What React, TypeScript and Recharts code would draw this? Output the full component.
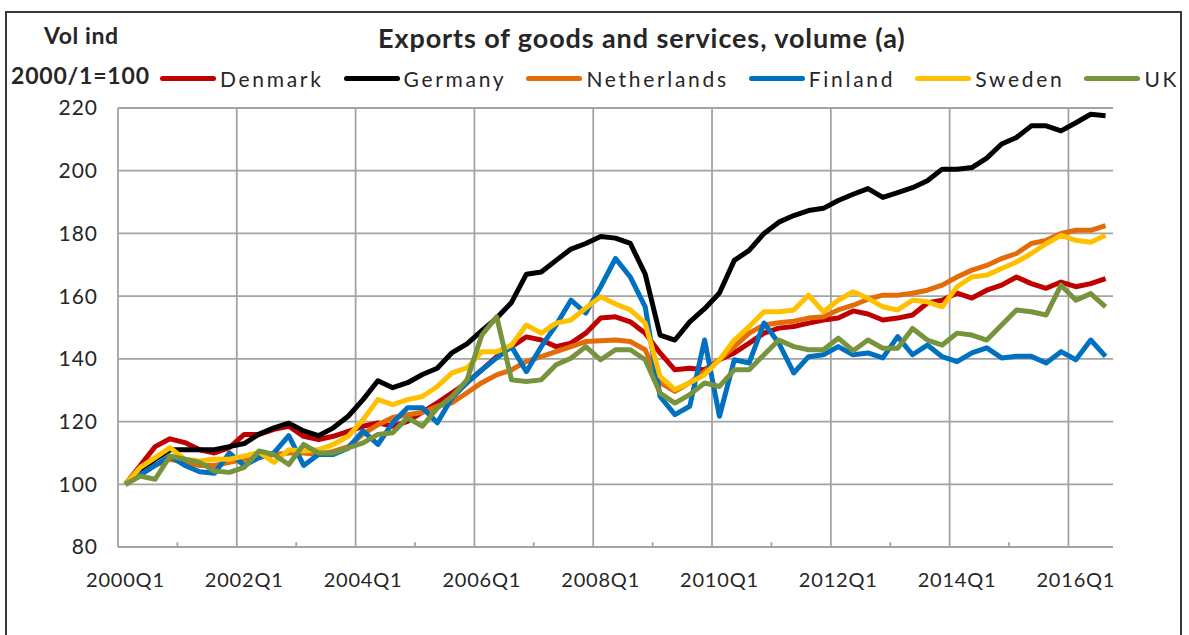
import {
  CartesianGrid,
  Legend,
  Line,
  LineChart,
  ReferenceLine,
  XAxis,
  YAxis,
} from "recharts"

// quarterly volume index, 2000Q1 = 100
const DENMARK = [
  100, 106, 112, 114.5, 113.3, 111, 110, 111.7, 115.9, 115.9,
  117.5, 118.5, 115.3, 114.3, 115.3, 116.9, 118.5, 119.6, 118.5, 120.1,
  123, 126, 129.2, 132.4, 136.5, 140.7, 143.9, 147, 146, 143.9,
  145, 148.2, 153, 153.4, 151.8, 148.2, 141.9, 136.5, 137, 136.5,
  139.7, 141.9, 145, 148.2, 149.8, 150.3, 151.4, 152.4, 153, 155.3,
  154.3, 152.4, 153, 154, 157.8, 158.7, 161, 159.4, 161.9, 163.5,
  166.1, 164, 162.5, 164.5, 163, 164, 165.6,
]
const GERMANY = [
  100, 104, 108, 111, 111, 111, 111, 112, 113, 116,
  118, 119.5, 117, 115.5, 118, 121.7, 127, 133, 130.8, 132.4,
  135, 137, 142, 144.8, 149, 153, 158, 167, 167.7, 171.4,
  175, 176.8, 179, 178.5, 176.8, 167, 147.6, 146, 151.8, 156,
  161, 171.4, 174.6, 180, 183.6, 185.7, 187.3, 188, 190.5, 192.5,
  194.3, 191.5, 193, 194.6, 196.8, 200.5, 200.5, 201, 204, 208.5,
  210.6, 214.3, 214.3, 212.7, 215.3, 218, 217.5,
]
const NETHERLANDS = [
  100, 103, 106, 108, 107, 106, 106, 107, 108, 108.5,
  109.5, 110, 110, 109.5, 110.5, 112, 116, 119, 121.3, 122.2,
  122.9, 124.9, 126, 129.2, 132.4, 134.9, 136.5, 139.2, 140.7, 142.3,
  143.9, 145.5, 145.8, 146, 145.5, 142.9, 132.4, 129.6, 132.4, 136,
  139.7, 143.9, 148.2, 150.8, 151.5, 152, 153, 153.4, 155.6, 157.1,
  159, 160.3, 160.3, 160.9, 161.9, 163.5, 166.1, 168.3, 169.8, 172,
  173.6, 176.8, 177.8, 180, 181, 181, 182.5,
]
const FINLAND = [
  100, 103, 106, 109, 106, 104, 103.5, 110, 106, 108.5,
  110, 115.5, 106, 109.5, 109.5, 111.5, 117, 112.7, 119.6, 124.4,
  124.4, 119.6, 127.6, 132.4, 136.5, 140.3, 143.9, 135.9, 143.9, 150.8,
  158.7, 154.6, 163, 172, 166.1, 156.6, 128, 122.2, 124.9, 146,
  121.7, 139.7, 138.7, 151.4, 145, 135.5, 140.7, 141.3, 143.9, 141.3,
  141.9, 140.3, 147.1, 141.3, 144.4, 140.7, 139.1, 141.9, 143.5, 140.3,
  140.8, 140.8, 138.7, 142.3, 139.7, 146, 140.8,
]
const SWEDEN = [
  100, 105.4, 108.5, 111.7, 108, 107.4, 108, 108, 109, 110.2,
  107, 111, 110.6, 111, 112.7, 115.3, 120.6, 127, 125.4, 127,
  128, 131.2, 135.5, 137.1, 142.3, 142.3, 144.4, 150.8, 148.2, 151.4,
  152.4, 156.2, 159.8, 157.5, 155.6, 151.4, 134.4, 130.2, 132.4, 134.9,
  139.7, 146, 150.3, 155, 155, 155.6, 160.3, 155, 158.7, 161.4,
  159.3, 156.6, 155.6, 158.7, 158.2, 156.6, 163, 166.1, 166.7, 168.8,
  170.9, 173.6, 176.7, 179.4, 177.8, 177.2, 179.4,
]
const UK = [
  100, 102.6, 101.6, 109, 108, 107, 104.2, 103.8, 105.4, 110.6,
  109.5, 106.3, 112.7, 110, 110, 111.6, 113.2, 115.9, 116.4, 121.2,
  118.5, 124.3, 128, 133.3, 147.6, 153.4, 133.3, 132.8, 133.3, 138.1,
  140.2, 143.9, 139.7, 142.9, 142.9, 139.7, 129.1, 125.9, 128.6, 132.3,
  131.2, 136.5, 136.5, 141.3, 146, 143.9, 142.9, 142.9, 146.6, 142.6,
  146, 143.4, 143.4, 149.7, 146, 144.4, 148.2, 147.6, 146, 150.8,
  155.6, 155, 154, 163.5, 158.7, 160.8, 156.6,
]

const QUARTERS: string[] = []
for (let y = 2000; y <= 2016; y++) {
  for (let q = 1; q <= 4; q++) QUARTERS.push(`${y}Q${q}`)
}
const N_QUARTERS = DENMARK.length

const Y_TICKS = [80, 100, 120, 140, 160, 180, 200, 220]
// labelled quarters (every two years) and category boundaries for the grid
const LABEL_TICKS = [0, 8, 16, 24, 32, 40, 48, 56, 64]
const MAJOR_BOUNDS = [7.5, 15.5, 23.5, 31.5, 39.5, 47.5, 55.5, 63.5]
const MINOR_BOUNDS = [3.5, 11.5, 19.5, 27.5, 35.5, 43.5, 51.5, 59.5]

const SERIES = [
  { key: "dk", name: "Denmark", values: DENMARK, color: "#c00000" },
  { key: "de", name: "Germany", values: GERMANY, color: "#000000" },
  { key: "nl", name: "Netherlands", values: NETHERLANDS, color: "#e36c09" },
  { key: "fi", name: "Finland", values: FINLAND, color: "#0070c0" },
  { key: "se", name: "Sweden", values: SWEDEN, color: "#ffc000" },
  { key: "uk", name: "UK", values: UK, color: "#77933c" },
]

const FONT = "Lato, 'Open Sans', sans-serif"
const GRID = "#a3a3a3"
const TEXT = "#262626"

const data = Array.from({ length: N_QUARTERS }, (_, i) => {
  const row: Record<string, number | string> = { idx: i, label: QUARTERS[i] }
  SERIES.forEach((s) => (row[s.key] = s.values[i]))
  return row
})

// legend keeps the series order, not recharts' sorted payload
function LegendRow() {
  return (
    <div style={{ display: "flex", alignItems: "center", fontFamily: FONT }}>
      {SERIES.map((s) => (
        <div
          key={s.key}
          style={{ display: "flex", alignItems: "center", marginRight: 20 }}
        >
          <span
            style={{
              display: "inline-block",
              width: 56,
              height: 5,
              borderRadius: 3,
              background: s.color,
              marginRight: 4,
            }}
          />
          <span style={{ fontSize: 21, letterSpacing: 2.7, color: TEXT }}>
            {s.name}
          </span>
        </div>
      ))}
    </div>
  )
}

export default function App() {
  return (
    <div
      style={{
        position: "absolute",
        left: 0,
        top: 0,
        width: 1189,
        height: 635,
        background: "#fff",
        overflow: "hidden",
        fontFamily: FONT,
      }}
    >
      <div
        style={{
          position: "absolute",
          left: 5,
          top: 11,
          width: 1173,
          height: 660,
          border: "2px solid #3a3a3a",
        }}
      />
      <LineChart
        width={1189}
        height={635}
        data={data}
        margin={{ top: 108, right: 76, bottom: 48, left: 58 }}
      >
        <CartesianGrid vertical={false} stroke={GRID} strokeWidth={1.8} />
        <XAxis
          dataKey="idx"
          type="number"
          domain={[-0.5, N_QUARTERS - 0.5]}
          ticks={LABEL_TICKS}
          interval={0}
          tickFormatter={(i: number) => QUARTERS[i]}
          tickLine={false}
          tickSize={0}
          tickMargin={26}
          height={40}
          axisLine={{ stroke: GRID, strokeWidth: 1.8 }}
          tick={{ fontSize: 20, fill: TEXT, fontFamily: FONT, letterSpacing: 0.8 }}
        />
        <YAxis
          domain={[80, 220]}
          ticks={Y_TICKS}
          interval={0}
          width={60}
          tickLine={false}
          tickSize={0}
          tickMargin={20}
          axisLine={{ stroke: GRID, strokeWidth: 1.8 }}
          tick={{ fontSize: 21, fill: TEXT, fontFamily: FONT, letterSpacing: 1 }}
        />
        {MAJOR_BOUNDS.map((b) => (
          <ReferenceLine key={b} x={b} stroke={GRID} strokeWidth={1.8} />
        ))}
        {MINOR_BOUNDS.map((b) => (
          <ReferenceLine
            key={`m${b}`}
            segment={[
              { x: b, y: 80 },
              { x: b, y: 81.5 },
            ]}
            stroke={GRID}
            strokeWidth={1.8}
          />
        ))}
        <Legend
          layout="horizontal"
          verticalAlign="middle"
          align="center"
          content={() => <LegendRow />}
          wrapperStyle={{ position: "absolute", left: 160, top: 66, width: "auto" }}
        />
        {SERIES.map((s) => (
          <Line
            key={s.key}
            dataKey={s.key}
            name={s.name}
            type="linear"
            stroke={s.color}
            strokeWidth={5}
            strokeLinejoin="round"
            dot={false}
            activeDot={false}
            isAnimationActive={false}
          />
        ))}
      </LineChart>
      <div
        style={{
          position: "absolute",
          left: 44,
          top: 21,
          fontSize: 23,
          fontWeight: 700,
          letterSpacing: 0.6,
          color: TEXT,
        }}
      >
        Vol ind
      </div>
      <div
        style={{
          position: "absolute",
          left: 11,
          top: 61,
          fontSize: 23,
          fontWeight: 700,
          letterSpacing: 0.8,
          color: TEXT,
        }}
      >
        2000/1=100
      </div>
      <div
        style={{
          position: "absolute",
          left: 378,
          top: 21,
          fontSize: 27,
          fontWeight: 700,
          letterSpacing: 0.9,
          color: TEXT,
        }}
      >
        Exports of goods and services, volume (a)
      </div>
    </div>
  )
}
